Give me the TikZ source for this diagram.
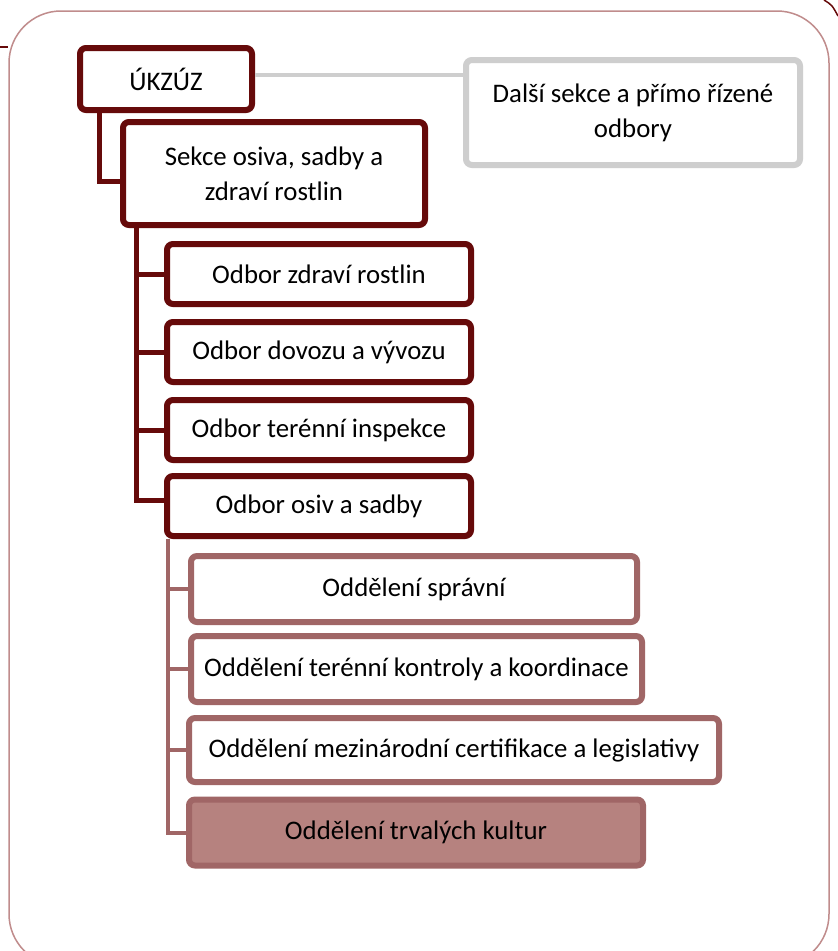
\documentclass[tikz,border=0pt]{standalone}
\usepackage{fontspec}
\setmainfont{Carlito}
\usetikzlibrary{positioning}

\definecolor{tmave}{RGB}{102,10,10}
\definecolor{sede}{RGB}{206,206,206}
\definecolor{svetle}{RGB}{160,102,102}
\definecolor{vypln}{RGB}{182,130,127}
\definecolor{ramec}{RGB}{192,140,140}

\tikzset{
  box/.style = {draw, rounded corners=6pt, line width=6pt, fill=white, align=center,
    inner sep=0pt, font=\fontsize{26.8}{35}\selectfont},
  odbor/.style = {box, draw=tmave, minimum width=304pt, minimum height=60pt},
  oddeleni/.style = {box, draw=svetle, minimum height=66pt},
  spoj/.style = {tmave, line width=5pt},
  spoj2/.style = {svetle, line width=4pt},
}

\begin{document}
\begin{tikzpicture}[x=1pt, y=-1pt]
    \useasboundingbox (0,0) rectangle (838,951);
    \clip (0,0) rectangle (838,951);
    \fill[white] (0,0) rectangle (838,951);

    % frame
    \draw[ramec, line width=1.5pt, rounded corners=52pt] (9,11) rectangle (829,966);
    \draw[tmave, line width=1.5pt] (0,47) -- (8,47);
    \draw[tmave, line width=1.5pt] (824,0) .. controls (832,5) .. (838,16);

    \node[box, draw=tmave, minimum width=172pt, minimum height=62pt] (ukzuz) at (166,79) {ÚKZÚZ};
    \node[box, draw=sede, minimum width=334pt, minimum height=105pt] (dalsi) at (633,112.5)
      {Další sekce a přímo řízené\\odbory};
    \node[box, draw=tmave, minimum width=302pt, minimum height=103pt] (sekce) at (274,173.5)
      {Sekce osiva, sadby a\\zdraví rostlin};

    \node[odbor] (zdravi) at (319,274) {Odbor zdraví rostlin};
    \node[odbor, below = 12pt of zdravi] (dovoz) {Odbor dovozu a vývozu};
    \node[odbor, below = 12pt of dovoz] (inspekce) {Odbor terénní inspekce};
    \node[odbor, below = 10pt of inspekce] (osiv) {Odbor osiv a sadby};

    \node[oddeleni, minimum width=446pt] (spravni) at (414,589) {Oddělení správní};
    \node[oddeleni, minimum width=451pt] (kontrola) at (416.5,669)
      {Oddělení terénní kontroly a koordinace};
    \node[oddeleni, minimum width=530pt, minimum height=64pt] (certifikace) at (454,750)
      {Oddělení mezinárodní certifikace a legislativy};
    \node[oddeleni, minimum width=454pt, fill=vypln] (kultury) at (416,832.5)
      {Oddělení trvalých kultur};

    \draw[sede, line width=4.5pt] ([yshift=4pt]ukzuz.east) -- ([yshift=4pt]ukzuz.east -| dalsi.west);
    \draw[spoj] ([xshift=-67pt]ukzuz.south) |- ([yshift=-8pt]sekce.west);

    \coordinate (kmen) at ([xshift=16pt]sekce.south west);
    \foreach \o in {zdravi,dovoz,inspekce}
      \draw[spoj] (kmen) |- (\o.west);
    \draw[spoj] (kmen) |- ([yshift=6pt]osiv.west);

    \coordinate (kmen2) at ([xshift=4pt]osiv.south west);
    \foreach \o in {spravni,kontrola,certifikace,kultury}
      \draw[spoj2] (kmen2) |- (\o.west);
\end{tikzpicture}
\end{document}
